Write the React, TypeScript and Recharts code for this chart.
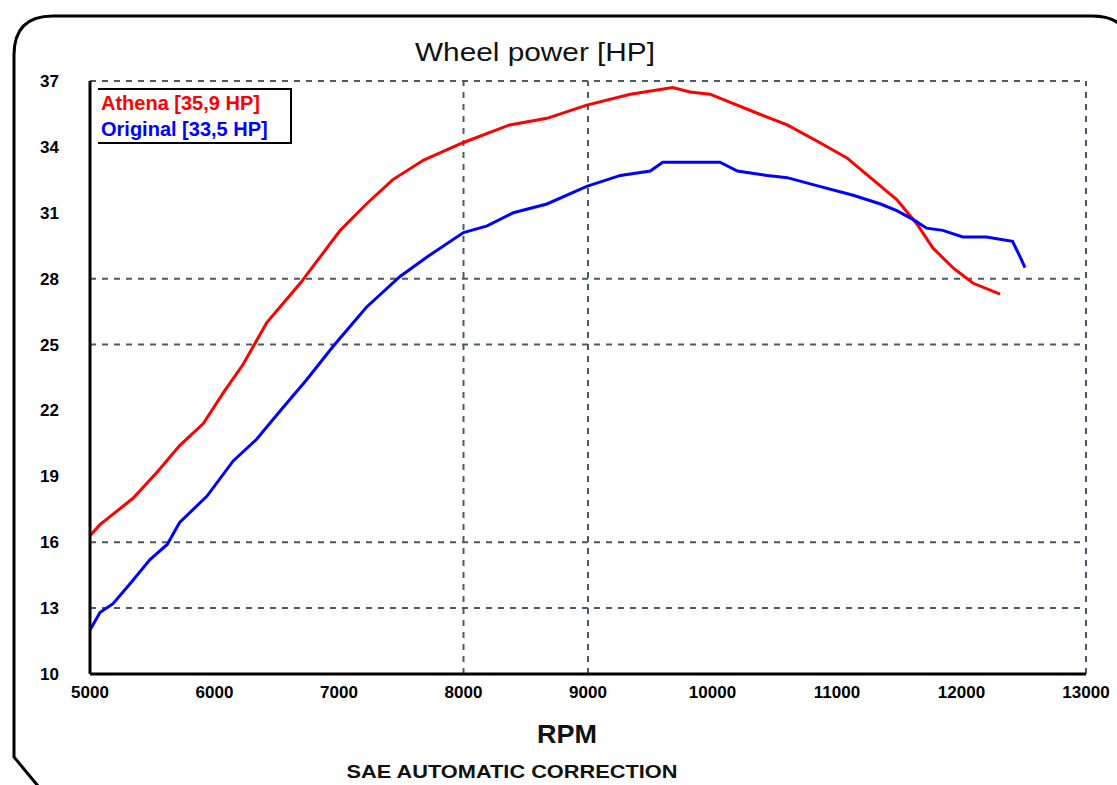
import { LineChart, Line, XAxis, YAxis, ReferenceLine } from 'recharts';

// Athena kit curve
const athenaRpm = [5000, 5080, 5345, 5540, 5720, 5910, 6070, 6230, 6420, 6690, 6850, 7010, 7220, 7430, 7680, 8000, 8370, 8670, 8990, 9340, 9680, 9820, 9980, 10330, 10600, 10860, 11080, 11290, 11480, 11640, 11770, 11930, 12090, 12310];
const athenaHp = [16.3, 16.8, 18.0, 19.2, 20.4, 21.4, 22.8, 24.1, 26.0, 27.8, 29.0, 30.2, 31.4, 32.5, 33.4, 34.2, 35.0, 35.3, 35.9, 36.4, 36.7, 36.5, 36.4, 35.6, 35.0, 34.2, 33.5, 32.5, 31.6, 30.5, 29.4, 28.5, 27.8, 27.3];

// stock curve
const originalRpm = [5000, 5080, 5185, 5320, 5480, 5620, 5720, 5940, 6150, 6340, 6530, 6740, 6950, 7220, 7490, 7710, 8000, 8190, 8400, 8670, 8990, 9260, 9500, 9600, 10060, 10200, 10440, 10600, 10860, 11130, 11350, 11480, 11610, 11720, 11850, 12010, 12200, 12410, 12470, 12510];
const originalHp = [12.0, 12.8, 13.2, 14.1, 15.2, 15.9, 16.9, 18.1, 19.7, 20.7, 22.0, 23.4, 24.9, 26.7, 28.1, 29.0, 30.1, 30.4, 31.0, 31.4, 32.2, 32.7, 32.9, 33.3, 33.3, 32.9, 32.7, 32.6, 32.2, 31.8, 31.4, 31.1, 30.7, 30.3, 30.2, 29.9, 29.9, 29.7, 29.0, 28.5];

const rpmTicks = [5000, 6000, 7000, 8000, 9000, 10000, 11000, 12000, 13000];
const hpTicks = [10, 13, 16, 19, 22, 25, 28, 31, 34, 37];
const gridHp = [13, 16, 25, 28, 37];
const gridRpm = [8000, 9000, 13000];

const seriesNames = ['Athena [35,9 HP]', 'Original [33,5 HP]'];
const seriesColors = ['#ff0000', '#0000ff'];

const athenaData = athenaRpm.map((rpm, i) => ({ rpm, hp: athenaHp[i] }));
const originalData = originalRpm.map((rpm, i) => ({ rpm, hp: originalHp[i] }));

const FONT = '"Liberation Sans", Arial, sans-serif';

function LegendBox() {
  return (
    <div
      style={{
        position: 'absolute',
        left: 98,
        top: 88,
        width: 189,
        borderTop: '2px solid #000',
        borderBottom: '2px solid #000',
        borderRight: '2px solid #000',
        fontFamily: FONT,
        fontWeight: 'bold',
        fontSize: 20,
        lineHeight: '26px',
        paddingLeft: 3,
        background: '#fff',
      }}
    >
      {seriesNames.map((n, i) => (
        <div key={n} style={{ color: seriesColors[i], whiteSpace: 'nowrap' }}>{n}</div>
      ))}
    </div>
  );
}

export default function App() {
  const tickStyle = { fontFamily: FONT, fontSize: 17, fontWeight: 'bold', fill: '#000' };
  return (
    <div style={{ position: 'fixed', left: 0, top: 0, width: 1117, height: 785, overflow: 'hidden', background: '#fff' }}>
      <LineChart
        width={1117}
        height={785}
        margin={{ top: 81, right: 31, bottom: 81, left: 40 }}
      >
        {gridHp.map((v) => (
          <ReferenceLine key={'h' + v} y={v} stroke="#4a5a6a" strokeWidth={2} strokeDasharray="6 6" />
        ))}
        {gridRpm.map((v) => (
          <ReferenceLine key={'v' + v} x={v} stroke="#4a5a6a" strokeWidth={2} strokeDasharray="6 6" />
        ))}
        <XAxis
          type="number"
          dataKey="rpm"
          domain={[5000, 13000]}
          ticks={rpmTicks}
          height={30}
          tickLine={false}
          tickSize={0}
          tickMargin={12}
          axisLine={{ stroke: '#000', strokeWidth: 3 }}
          tick={tickStyle}
          interval={0}
          allowDataOverflow
        />
        <YAxis
          type="number"
          domain={[10, 37]}
          ticks={hpTicks}
          width={50}
          tickLine={false}
          tickSize={0}
          tickMargin={31}
          axisLine={{ stroke: '#000', strokeWidth: 3 }}
          tick={tickStyle}
          interval={0}
        />
        <Line
          data={athenaData}
          dataKey="hp"
          name={seriesNames[0]}
          stroke={seriesColors[0]}
          strokeWidth={3}
          dot={false}
          type="linear"
          isAnimationActive={false}
        />
        <Line
          data={originalData}
          dataKey="hp"
          name={seriesNames[1]}
          stroke={seriesColors[1]}
          strokeWidth={3}
          dot={false}
          type="linear"
          isAnimationActive={false}
        />
      </LineChart>
      <LegendBox />
      <svg
        width={1117}
        height={785}
        style={{ position: 'absolute', left: 0, top: 0, pointerEvents: 'none' }}
      >
        <path
          d="M 38 786 L 14 757 L 14 55 Q 14 16 53 16 L 1092 16 Q 1132 16 1132 56"
          fill="none"
          stroke="#000"
          strokeWidth={3}
        />
        <text x={535} y={61} textAnchor="middle" fontFamily={FONT} fontSize={25} textLength={240} lengthAdjust="spacingAndGlyphs" fill="#111">
          Wheel power [HP]
        </text>
        <text x={567} y={743} textAnchor="middle" fontFamily={FONT} fontSize={26} fontWeight="bold" textLength={60} lengthAdjust="spacingAndGlyphs" fill="#111">
          RPM
        </text>
        <text x={512} y={778} textAnchor="middle" fontFamily={FONT} fontSize={19} fontWeight="bold" textLength={331} lengthAdjust="spacingAndGlyphs" fill="#111">
          SAE AUTOMATIC CORRECTION
        </text>
      </svg>
    </div>
  );
}
